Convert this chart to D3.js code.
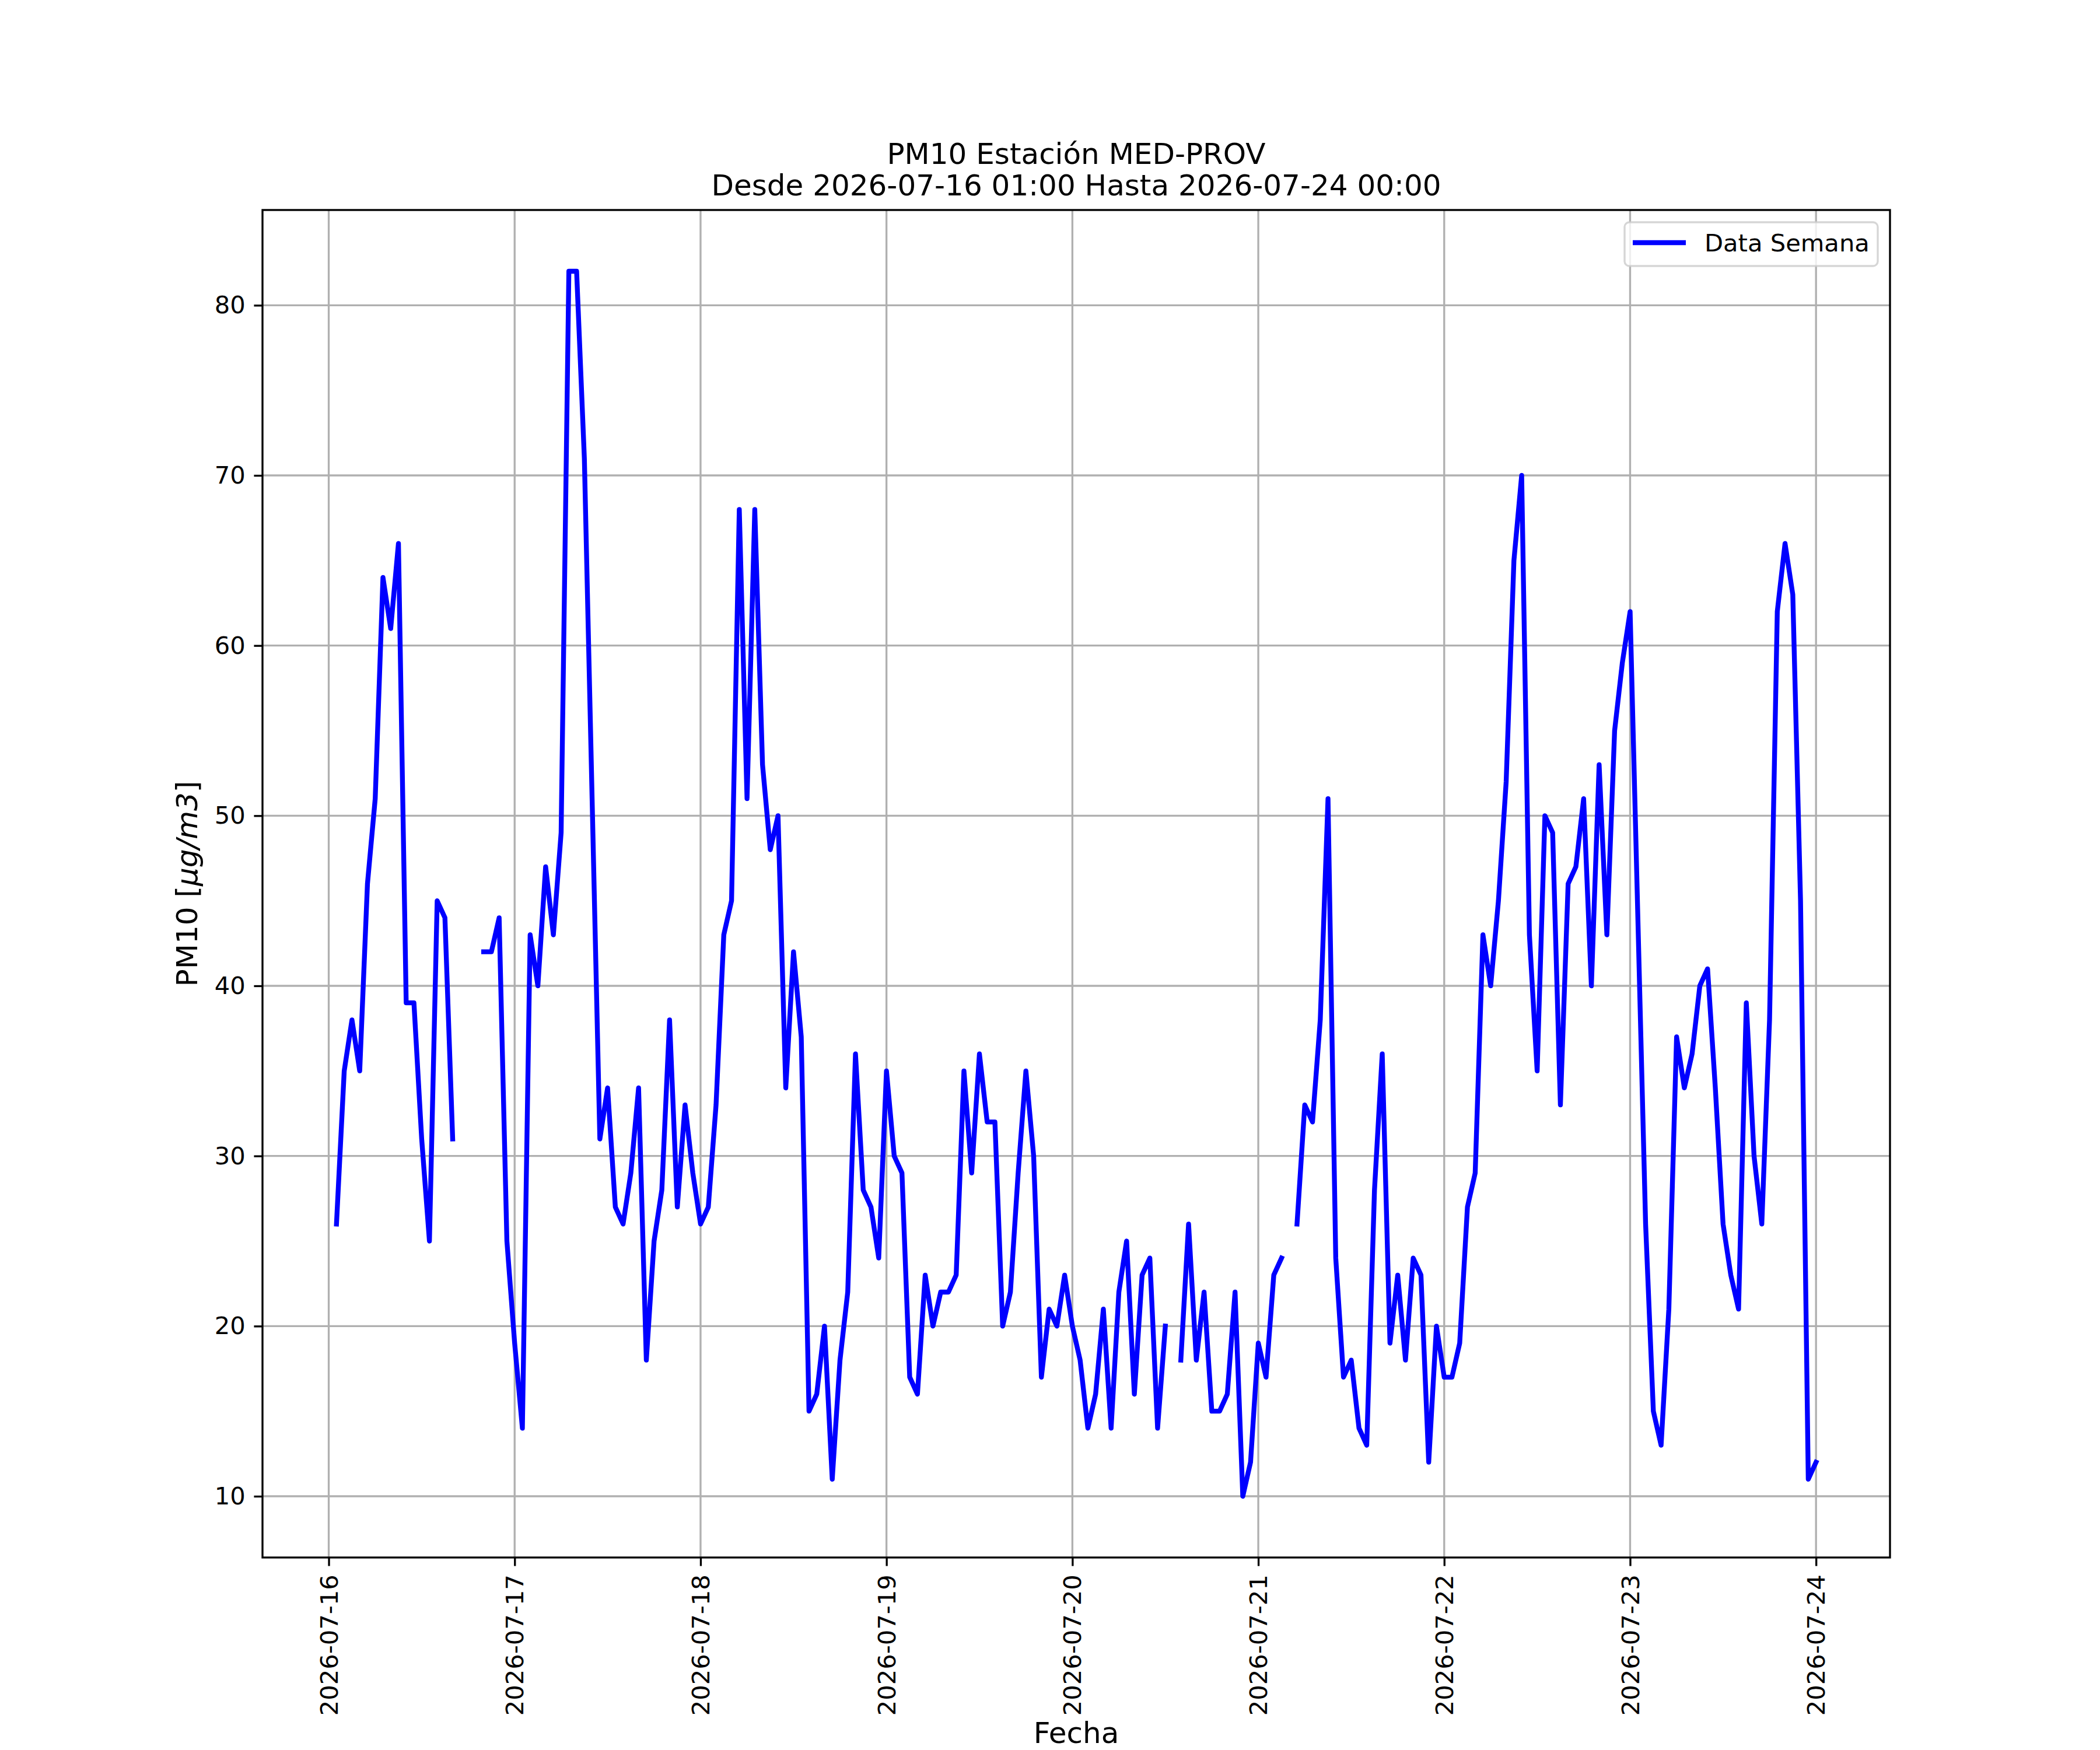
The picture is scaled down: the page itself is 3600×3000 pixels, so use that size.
<!DOCTYPE html>
<html>
<head>
<meta charset="utf-8">
<script src="https://cdn.jsdelivr.net/npm/d3@7"></script>
<style>
  body { margin: 0; background: #fff; }
  text { font-family: "DejaVu Sans", sans-serif; fill: #000; }
</style>
</head>
<body>
<div id="chart"></div>
<script>
// PM10 hourly values, each day array starts at 01:00 and ends at 00:00 of the next day
const inicio = Date.UTC(2026, 6, 16, 1);
const dia16 = [26, 35, 38, 35, 46, 51, 64, 61, 66, 39, 39, 31, 25, 45, 44, 31, null, null, null, 42, 42, 44, 25, 19];
const dia17 = [14, 43, 40, 47, 43, 49, 82, 82, 71, 51, 31, 34, 27, 26, 29, 34, 18, 25, 28, 38, 27, 33, 29, 26];
const dia18 = [27, 33, 43, 45, 68, 51, 68, 53, 48, 50, 34, 42, 37, 15, 16, 20, 11, 18, 22, 36, 28, 27, 24, 35];
const dia19 = [30, 29, 17, 16, 23, 20, 22, 22, 23, 35, 29, 36, 32, 32, 20, 22, 29, 35, 30, 17, 21, 20, 23, 20];
const dia20 = [18, 14, 16, 21, 14, 22, 25, 16, 23, 24, 14, 20, null, 18, 26, 18, 22, 15, 15, 16, 22, 10, 12, 19];
const dia21 = [17, 23, 24, null, 26, 33, 32, 38, 51, 24, 17, 18, 14, 13, 28, 36, 19, 23, 18, 24, 23, 12, 20, 17];
const dia22 = [17, 19, 27, 29, 43, 40, 45, 52, 65, 70, 43, 35, 50, 49, 33, 46, 47, 51, 40, 53, 43, 55, 59, 62];
const dia23 = [44, 26, 15, 13, 21, 37, 34, 36, 40, 41, 34, 26, 23, 21, 39, 30, 26, 38, 62, 66, 63, 45, 11, 12];
const yTicks = [10, 20, 30, 40, 50, 60, 70, 80];
const titulo = ["PM10 Estación MED-PROV", "Desde 2026-07-16 01:00 Hasta 2026-07-24 00:00"];

const dias = [dia16, dia17, dia18, dia19, dia20, dia21, dia22, dia23];
const data = [];
dias.forEach((arr, d) => arr.forEach((v, i) => {
    data.push({ t: new Date(inicio + (d * 24 + i) * 3600e3), v: v });
}));

const W = 3600, H = 3000;
const axL = 450, axR = 3240, axT = 360, axB = 2670;
const pt = 300 / 72;

// matplotlib style 5% margins
const tExt = d3.extent(data, d => d.t);
const tPad = (tExt[1] - tExt[0]) * 0.05;
const vals = data.filter(d => d.v != null).map(d => d.v);
const vMin = d3.min(vals), vMax = d3.max(vals);
const vPad = (vMax - vMin) * 0.05;

const x = d3.scaleUtc()
    .domain([new Date(+tExt[0] - tPad), new Date(+tExt[1] + tPad)])
    .range([axL, axR]);
const y = d3.scaleLinear()
    .domain([vMin - vPad, vMax + vPad])
    .range([axB, axT]);

const xTicks = d3.utcDay.range(Date.UTC(2026, 6, 16), Date.UTC(2026, 6, 25));
const fmt = d3.utcFormat("%Y-%m-%d");

const svg = d3.select("#chart").append("svg")
    .attr("width", W)
    .attr("height", H);
svg.append("rect").attr("width", W).attr("height", H).attr("fill", "#fff");

// grid
const grid = svg.append("g");
grid.selectAll(".gx").data(xTicks).join("line")
    .attr("x1", d => x(d)).attr("x2", d => x(d))
    .attr("y1", axT).attr("y2", axB)
    .attr("stroke", "#b0b0b0").attr("stroke-width", 0.8 * pt);
grid.selectAll(".gy").data(yTicks).join("line")
    .attr("x1", axL).attr("x2", axR)
    .attr("y1", d => y(d)).attr("y2", d => y(d))
    .attr("stroke", "#b0b0b0").attr("stroke-width", 0.8 * pt);

// line
const line = d3.line()
    .defined(d => d.v != null)
    .x(d => x(d.t))
    .y(d => y(d.v));
svg.append("path")
    .datum(data)
    .attr("d", line)
    .attr("fill", "none")
    .attr("stroke", "#0000ff")
    .attr("stroke-width", 2 * pt)
    .attr("stroke-linejoin", "round")
    .attr("stroke-linecap", "square");

// axes
const xAxis = svg.append("g")
    .attr("transform", `translate(0,${axB})`)
    .call(d3.axisBottom(x).tickValues(xTicks).tickFormat(fmt)
        .tickSize(3.5 * pt).tickPadding(3.5 * pt).tickSizeOuter(0));
xAxis.selectAll("text")
    .attr("font-size", 10 * pt)
    .attr("transform", "rotate(-90)")
    .attr("text-anchor", "end")
    .attr("x", -7 * pt).attr("y", 0).attr("dy", "0.35em");

const yAxis = svg.append("g")
    .attr("transform", `translate(${axL},0)`)
    .call(d3.axisLeft(y).tickValues(yTicks)
        .tickSize(3.5 * pt).tickPadding(3.5 * pt).tickSizeOuter(0));
yAxis.selectAll("text").attr("font-size", 10 * pt);

[xAxis, yAxis].forEach(g => {
    g.select(".domain").remove();
    g.selectAll("line").attr("stroke", "#000").attr("stroke-width", 0.8 * pt);
    g.attr("font-family", null);
});

// spines
svg.append("rect")
    .attr("x", axL).attr("y", axT)
    .attr("width", axR - axL).attr("height", axB - axT)
    .attr("fill", "none").attr("stroke", "#000").attr("stroke-width", 0.8 * pt);

// title
svg.append("text").attr("x", (axL + axR) / 2).attr("y", 281)
    .attr("text-anchor", "middle").attr("font-size", 12 * pt).text(titulo[0]);
svg.append("text").attr("x", (axL + axR) / 2).attr("y", 335)
    .attr("text-anchor", "middle").attr("font-size", 12 * pt).text(titulo[1]);

// axis labels
svg.append("text").attr("x", (axL + axR) / 2).attr("y", 2988)
    .attr("text-anchor", "middle").attr("font-size", 12 * pt).text("Fecha");
const yl = svg.append("text")
    .attr("transform", `translate(338,${(axT + axB) / 2}) rotate(-90)`)
    .attr("text-anchor", "middle").attr("font-size", 12 * pt);
yl.append("tspan").text("PM10 [");
yl.append("tspan").attr("font-style", "italic").text("μg/m3");
yl.append("tspan").text("]");

// legend
const lg = svg.append("g");
lg.append("rect")
    .attr("x", 2785).attr("y", axT + 21)
    .attr("width", axR - 21 - 2785).attr("height", 75)
    .attr("rx", 8)
    .attr("fill", "#fff").attr("fill-opacity", 0.8)
    .attr("stroke", "#cccccc").attr("stroke-opacity", 0.8).attr("stroke-width", 0.8 * pt);
lg.append("line")
    .attr("x1", 2799).attr("x2", 2890).attr("y1", 416).attr("y2", 416)
    .attr("stroke", "#0000ff").attr("stroke-width", 2 * pt);
lg.append("text").attr("x", 2922).attr("y", 431)
    .attr("font-size", 10 * pt).text("Data Semana");
</script>
</body>
</html>
